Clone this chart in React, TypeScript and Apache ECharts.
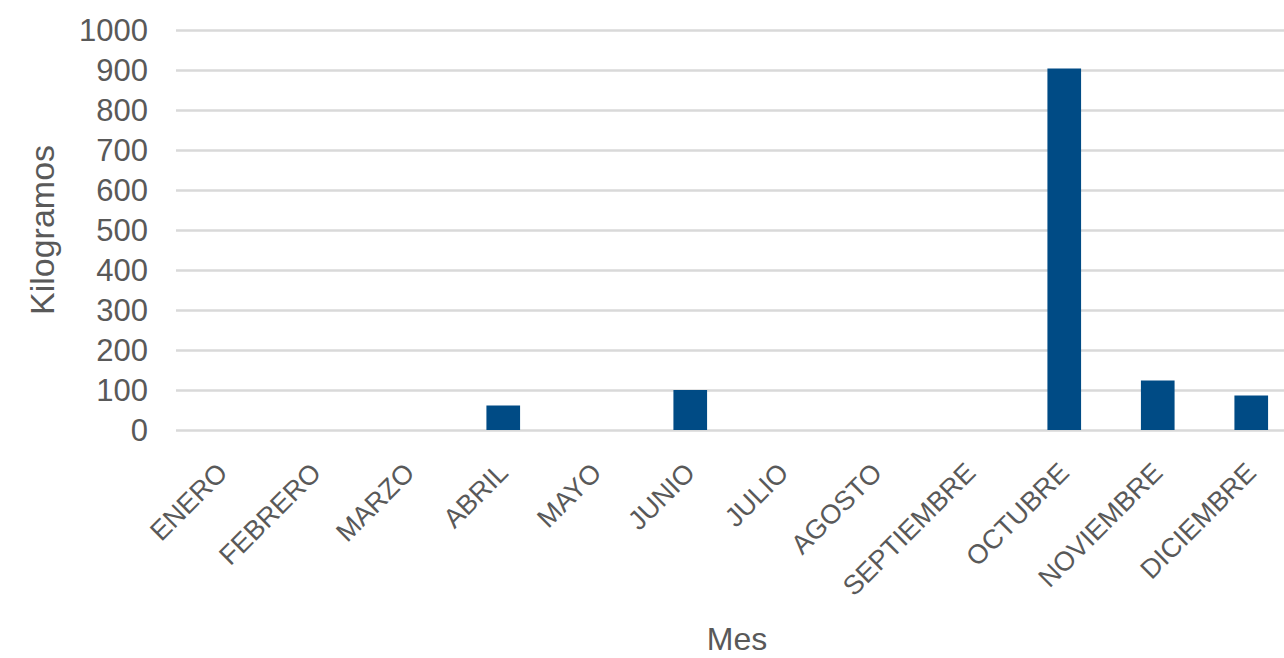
import React, { useEffect, useRef } from "react";
import * as echarts from "echarts";

const months = [
  "ENERO", "FEBRERO", "MARZO", "ABRIL", "MAYO", "JUNIO",
  "JULIO", "AGOSTO", "SEPTIEMBRE", "OCTUBRE", "NOVIEMBRE", "DICIEMBRE",
];
const kilos = [0, 0, 0, 61, 0, 100, 0, 0, 0, 904, 124, 86];
const yMin = 0;
const yMax = 1000;
const yStep = 100;
const yTitle = "Kilogramos";
const xTitle = "Mes";

export default function App() {
  const ref = useRef<HTMLDivElement>(null);
  useEffect(() => {
    if (!ref.current) return;
    const chart = echarts.init(ref.current, null, { renderer: "svg" });
    const font = "'Liberation Sans', Arial, sans-serif";
    const textColor = "#595959";
    chart.setOption({
      animation: false,
      backgroundColor: "#ffffff",
      grid: {
        left: 176,
        right: -14,
        top: 30,
        bottom: 228,
        containLabel: false,
        outerBoundsMode: "none",
      },
      xAxis: {
        type: "category",
        data: months,
        name: xTitle,
        nameLocation: "middle",
        nameGap: 193,
        nameTextStyle: { fontFamily: font, fontSize: 32, lineHeight: 32, color: textColor },
        axisLine: { show: false },
        axisTick: { show: false },
        axisLabel: {
          rotate: 45,
          margin: 38,
          interval: 0,
          fontFamily: font,
          fontSize: 27,
          color: textColor,
        },
      },
      yAxis: {
        type: "value",
        min: yMin,
        max: yMax,
        interval: yStep,
        name: yTitle,
        nameLocation: "middle",
        nameGap: 117,
        nameTextStyle: { fontFamily: font, fontSize: 34, color: textColor },
        axisLine: { show: false },
        axisTick: { show: false },
        axisLabel: {
          margin: 28,
          fontFamily: font,
          fontSize: 31,
          color: textColor,
          formatter: (v: number) => String(v),
        },
        splitLine: { lineStyle: { color: "#d9d9d9", width: 2.5 } },
      },
      series: [
        {
          type: "bar",
          data: kilos,
          barWidth: "36%",
          itemStyle: { color: "#004b85" },
        },
      ],
    });
    return () => chart.dispose();
  }, []);
  return (
    <div
      ref={ref}
      style={{ position: "fixed", left: 0, top: 0, width: 1284, height: 658 }}
    />
  );
}
